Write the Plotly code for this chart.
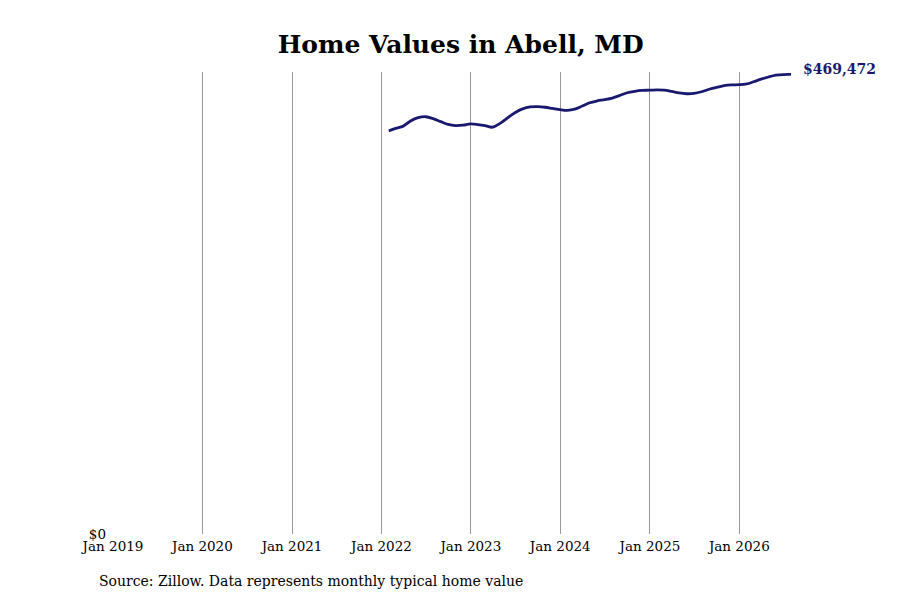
import pandas as pd
import plotly.graph_objects as go

# Monthly typical home value, Abell MD (month-end dates)
dates = pd.date_range("2022-01-31", "2026-07-31", freq="ME")
values = [
    411900, 414400, 416700, 422000, 425300, 426300, 424400, 421300, 418500, 417300,
    417700, 419000, 418300, 417200, 415600, 419500, 425100, 430400, 434300, 436300,
    436600, 436000, 434800, 433500, 432800, 434000, 437200, 440600, 442500, 443700,
    445300, 448100, 450800, 452300, 453200, 453400, 453700, 453400, 452100, 450600,
    449800, 450100, 451800, 454400, 456200, 458000, 458800, 459000, 459800, 462000,
    464700, 466900, 468700, 469400, 469472,
]
tick_dates = pd.date_range("2019-01-01", "2026-01-01", freq="YS")
tick_labels = [d.strftime("Jan %Y") for d in tick_dates]

navy = "#191970"
font = "DejaVu Serif"

fig = go.Figure()
fig.add_trace(go.Scatter(
    x=dates, y=values, mode="lines",
    line=dict(color=navy, width=2.8, shape="spline"),
    hoverinfo="skip",
))

# label the latest value at the end of the line
fig.add_annotation(
    x=dates[-1], y=values[-1],
    text="<b>${:,}</b>".format(values[-1]),
    showarrow=False, xanchor="left", yanchor="middle",
    xshift=10, yshift=5,
    font=dict(family=font, size=14, color=navy),
)

fig.add_annotation(
    xref="paper", yref="paper", x=-0.024, y=-0.102,
    text="Source: Zillow. Data represents monthly typical home value",
    showarrow=False, xanchor="left", yanchor="middle",
    font=dict(family=font, size=14, color="black"),
)

# page body adds an 8px offset, so margins are shifted to compensate
fig.update_layout(
    width=900, height=600,
    margin=dict(l=105, r=117, t=64, b=74),
    paper_bgcolor="white", plot_bgcolor="white",
    showlegend=False,
    title=dict(
        text="<b>Home Values in Abell, MD</b>",
        x=0.503, xanchor="center", y=0.94, yanchor="middle",
        font=dict(family=font, size=25, color="black"),
    ),
    font=dict(family=font, size=13, color="black"),
)

fig.update_xaxes(
    range=[pd.Timestamp("2019-01-01"), dates[-1]],
    tickvals=tick_dates, ticktext=tick_labels,
    showgrid=True, gridcolor="#999999", gridwidth=1,
    showline=False, zeroline=False, ticks="",
    ticklabelstandoff=2,
    tickfont=dict(family=font, size=13.5, color="black"),
)
fig.update_yaxes(
    range=[0, 472000],
    tickvals=[0], ticktext=["$0"],
    showgrid=False, zeroline=False, showline=False, ticks="",
    ticklabelstandoff=6,
    tickfont=dict(family=font, size=13.5, color="black"),
)

fig.write_html("out.html")
